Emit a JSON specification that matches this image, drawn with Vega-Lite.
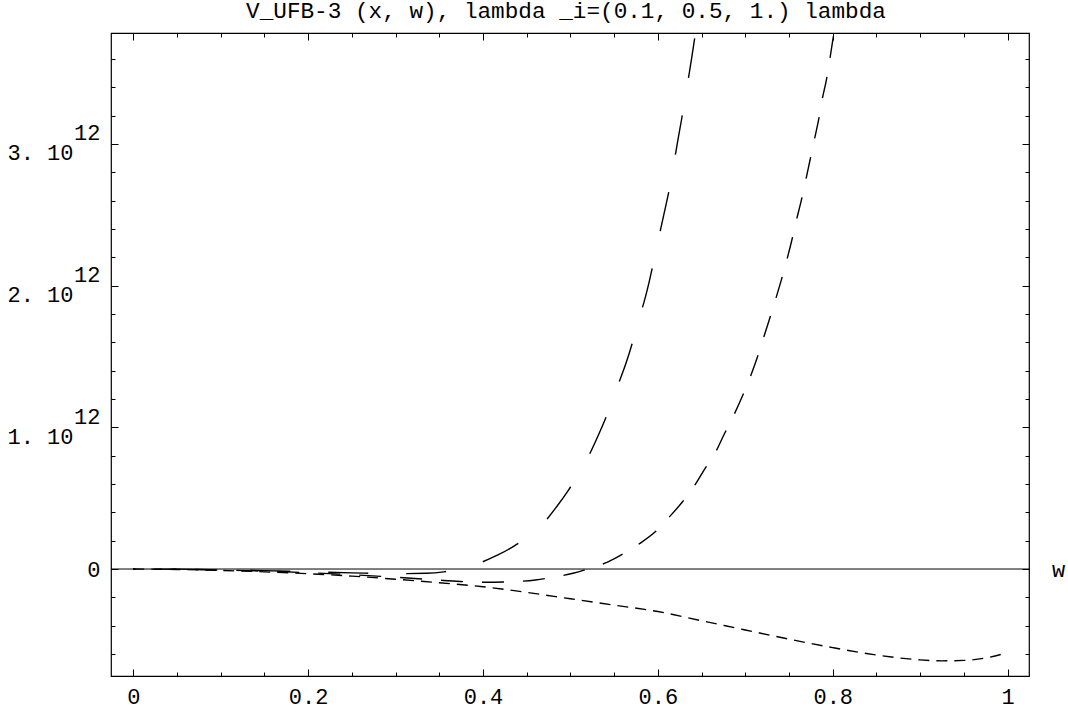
{
  "$schema": "https://vega.github.io/schema/vega-lite/v6.json",
  "width": 918,
  "height": 643,
  "autosize": {"type": "none"},
  "padding": {"left": 111, "top": 33, "right": 39, "bottom": 39},
  "background": "white",
  "config": {
    "view": {"stroke": "black", "strokeWidth": 1.2},
    "font": "Liberation Mono",
    "axis": {"labelFont": "Liberation Mono", "labelFontSize": 22, "labelColor": "black", "tickColor": "black", "tickWidth": 1, "domain": false, "grid": false, "labelOverlap": false, "labelFlush": false}
  },
  "title": {"text": "V_UFB-3 (x, w), lambda _i=(0.1, 0.5, 1.) lambda", "font": "Liberation Mono", "fontSize": 22.7, "fontWeight": "normal", "color": "black", "anchor": "middle", "offset": 10, "dx": -4},
  "datasets": {
    "curves": [
      {"series": "S", "w": 0, "V": 0},
      {"series": "S", "w": 0.05, "V": -0.003e12},
      {"series": "S", "w": 0.1, "V": -0.01e12},
      {"series": "S", "w": 0.15, "V": -0.02e12},
      {"series": "S", "w": 0.2, "V": -0.033e12},
      {"series": "S", "w": 0.25, "V": -0.05e12},
      {"series": "S", "w": 0.3, "V": -0.072e12},
      {"series": "S", "w": 0.35, "V": -0.097e12},
      {"series": "S", "w": 0.4, "V": -0.125e12},
      {"series": "S", "w": 0.45, "V": -0.165e12},
      {"series": "S", "w": 0.5, "V": -0.21e12},
      {"series": "S", "w": 0.55, "V": -0.255e12},
      {"series": "S", "w": 0.6, "V": -0.3e12},
      {"series": "S", "w": 0.65, "V": -0.365e12},
      {"series": "S", "w": 0.7, "V": -0.43e12},
      {"series": "S", "w": 0.75, "V": -0.495e12},
      {"series": "S", "w": 0.8, "V": -0.555e12},
      {"series": "S", "w": 0.85, "V": -0.607e12},
      {"series": "S", "w": 0.875, "V": -0.627e12},
      {"series": "S", "w": 0.9, "V": -0.641e12},
      {"series": "S", "w": 0.925, "V": -0.648e12},
      {"series": "S", "w": 0.95, "V": -0.645e12},
      {"series": "S", "w": 0.975, "V": -0.628e12},
      {"series": "S", "w": 1.0, "V": -0.59e12},
      {"series": "M", "w": 0, "V": 0},
      {"series": "M", "w": 0.05, "V": -0.002e12},
      {"series": "M", "w": 0.1, "V": -0.007e12},
      {"series": "M", "w": 0.15, "V": -0.015e12},
      {"series": "M", "w": 0.2, "V": -0.026e12},
      {"series": "M", "w": 0.25, "V": -0.04e12},
      {"series": "M", "w": 0.3, "V": -0.058e12},
      {"series": "M", "w": 0.35, "V": -0.078e12},
      {"series": "M", "w": 0.38, "V": -0.09e12},
      {"series": "M", "w": 0.4, "V": -0.093e12},
      {"series": "M", "w": 0.43, "V": -0.09e12},
      {"series": "M", "w": 0.46, "V": -0.077e12},
      {"series": "M", "w": 0.48, "V": -0.058e12},
      {"series": "M", "w": 0.503, "V": -0.03e12},
      {"series": "M", "w": 0.523, "V": 0.007e12},
      {"series": "M", "w": 0.543, "V": 0.05e12},
      {"series": "M", "w": 0.562, "V": 0.113e12},
      {"series": "M", "w": 0.58, "V": 0.183e12},
      {"series": "M", "w": 0.598, "V": 0.268e12},
      {"series": "M", "w": 0.612, "V": 0.36e12},
      {"series": "M", "w": 0.628, "V": 0.473e12},
      {"series": "M", "w": 0.641, "V": 0.58e12},
      {"series": "M", "w": 0.653, "V": 0.7e12},
      {"series": "M", "w": 0.666, "V": 0.825e12},
      {"series": "M", "w": 0.676, "V": 0.953e12},
      {"series": "M", "w": 0.686, "V": 1.075e12},
      {"series": "M", "w": 0.696, "V": 1.21e12},
      {"series": "M", "w": 0.705, "V": 1.345e12},
      {"series": "M", "w": 0.713, "V": 1.48e12},
      {"series": "M", "w": 0.72, "V": 1.615e12},
      {"series": "M", "w": 0.727, "V": 1.75e12},
      {"series": "M", "w": 0.734, "V": 1.89e12},
      {"series": "M", "w": 0.741, "V": 2.035e12},
      {"series": "M", "w": 0.747, "V": 2.17e12},
      {"series": "M", "w": 0.753, "V": 2.315e12},
      {"series": "M", "w": 0.758, "V": 2.45e12},
      {"series": "M", "w": 0.764, "V": 2.6e12},
      {"series": "M", "w": 0.769, "V": 2.74e12},
      {"series": "M", "w": 0.774, "V": 2.885e12},
      {"series": "M", "w": 0.779, "V": 3.03e12},
      {"series": "M", "w": 0.784, "V": 3.175e12},
      {"series": "M", "w": 0.788, "V": 3.315e12},
      {"series": "M", "w": 0.793, "V": 3.46e12},
      {"series": "M", "w": 0.797, "V": 3.61e12},
      {"series": "M", "w": 0.801, "V": 3.77e12},
      {"series": "M", "w": 0.812, "V": 4.2e12},
      {"series": "L", "w": 0, "V": 0},
      {"series": "L", "w": 0.05, "V": -0.001e12},
      {"series": "L", "w": 0.1, "V": -0.005e12},
      {"series": "L", "w": 0.15, "V": -0.011e12},
      {"series": "L", "w": 0.2, "V": -0.019e12},
      {"series": "L", "w": 0.25, "V": -0.027e12},
      {"series": "L", "w": 0.3, "V": -0.033e12},
      {"series": "L", "w": 0.335, "V": -0.03e12},
      {"series": "L", "w": 0.355, "V": -0.02e12},
      {"series": "L", "w": 0.377, "V": 0.007e12},
      {"series": "L", "w": 0.397, "V": 0.045e12},
      {"series": "L", "w": 0.417, "V": 0.099e12},
      {"series": "L", "w": 0.435, "V": 0.16e12},
      {"series": "L", "w": 0.454, "V": 0.24e12},
      {"series": "L", "w": 0.47, "V": 0.33e12},
      {"series": "L", "w": 0.484, "V": 0.438e12},
      {"series": "L", "w": 0.497, "V": 0.55e12},
      {"series": "L", "w": 0.51, "V": 0.677e12},
      {"series": "L", "w": 0.521, "V": 0.8e12},
      {"series": "L", "w": 0.531, "V": 0.932e12},
      {"series": "L", "w": 0.54, "V": 1.06e12},
      {"series": "L", "w": 0.548, "V": 1.193e12},
      {"series": "L", "w": 0.556, "V": 1.325e12},
      {"series": "L", "w": 0.564, "V": 1.461e12},
      {"series": "L", "w": 0.571, "V": 1.6e12},
      {"series": "L", "w": 0.577, "V": 1.743e12},
      {"series": "L", "w": 0.584, "V": 1.88e12},
      {"series": "L", "w": 0.59, "V": 2.025e12},
      {"series": "L", "w": 0.595, "V": 2.165e12},
      {"series": "L", "w": 0.6, "V": 2.308e12},
      {"series": "L", "w": 0.605, "V": 2.45e12},
      {"series": "L", "w": 0.61, "V": 2.59e12},
      {"series": "L", "w": 0.615, "V": 2.74e12},
      {"series": "L", "w": 0.619, "V": 2.886e12},
      {"series": "L", "w": 0.623, "V": 3.03e12},
      {"series": "L", "w": 0.627, "V": 3.169e12},
      {"series": "L", "w": 0.631, "V": 3.32e12},
      {"series": "L", "w": 0.635, "V": 3.465e12},
      {"series": "L", "w": 0.639, "V": 3.62e12},
      {"series": "L", "w": 0.643, "V": 3.783e12},
      {"series": "L", "w": 0.655, "V": 4.25e12}
    ]
  },
  "resolve": {"axis": {"x": "independent", "y": "independent"}},
  "layer": [
    {
      "data": {"name": "curves"},
      "transform": [{"filter": "datum.series == 'S'"}],
      "mark": {"type": "line", "color": "black", "strokeWidth": 1.4, "strokeDash": [11, 7], "clip": true, "interpolate": "monotone"},
      "encoding": {
        "x": {"field": "w", "type": "quantitative", "scale": {"domain": [-0.0255, 1.0245], "nice": false, "zero": false},
          "axis": {"orient": "bottom", "values": [0, 0.2, 0.4, 0.6, 0.8, 1], "labelExpr": "datum.value == 0 ? '0' : datum.value == 1 ? '1' : format(datum.value, '.1f')", "ticks": false, "labelPadding": 10, "title": null}},
        "y": {"field": "V", "type": "quantitative", "scale": {"domain": [-0.755e12, 3.783e12], "nice": false, "zero": false},
          "axis": {"orient": "left", "values": [1e12, 2e12, 3e12], "labelExpr": "format(datum.value / 1e12, '.0f') + '. 10'", "ticks": false, "labelPadding": 38, "labelBaseline": "middle", "labelOffset": 9, "title": null}}
      }
    },
    {
      "data": {"name": "curves"},
      "transform": [{"filter": "datum.series == 'M'"}],
      "mark": {"type": "line", "color": "black", "strokeWidth": 1.4, "strokeDash": [22, 19], "strokeDashOffset": 20, "clip": true, "interpolate": "monotone"},
      "encoding": {
        "x": {"field": "w", "type": "quantitative", "scale": {"domain": [-0.0255, 1.0245], "nice": false, "zero": false},
          "axis": {"orient": "bottom", "values": [0, 0.05, 0.1, 0.15, 0.2, 0.25, 0.3, 0.35, 0.4, 0.45, 0.5, 0.55, 0.6, 0.65, 0.7, 0.75, 0.8, 0.85, 0.9, 0.95, 1], "labels": false, "ticks": true,
            "tickSize": {"condition": {"test": "abs(datum.value * 5 - round(datum.value * 5)) < 0.001", "value": -7}, "value": -4},
            "title": "w", "titleFont": "Liberation Mono", "titleFontSize": 22, "titleFontWeight": "normal", "titleColor": "black", "titleX": 947, "titleY": -107, "titleAlign": "center", "titleBaseline": "middle", "titleAngle": 0}},
        "y": {"field": "V", "type": "quantitative", "scale": {"domain": [-0.755e12, 3.783e12], "nice": false, "zero": false},
          "axis": {"orient": "left", "values": [-0.6e12, -0.4e12, -0.2e12, 0, 0.2e12, 0.4e12, 0.6e12, 0.8e12, 1e12, 1.2e12, 1.4e12, 1.6e12, 1.8e12, 2e12, 2.2e12, 2.4e12, 2.6e12, 2.8e12, 3e12, 3.2e12, 3.4e12, 3.6e12], "labels": false, "ticks": true,
            "tickSize": {"condition": {"test": "abs(datum.value / 1e12 - round(datum.value / 1e12)) < 0.001", "value": -7}, "value": -4}, "title": null}}
      }
    },
    {
      "data": {"name": "curves"},
      "transform": [{"filter": "datum.series == 'L'"}],
      "mark": {"type": "line", "color": "black", "strokeWidth": 1.4, "strokeDash": [40, 38], "strokeDashOffset": 39, "clip": true, "interpolate": "monotone"},
      "encoding": {
        "x": {"field": "w", "type": "quantitative", "scale": {"domain": [-0.0255, 1.0245], "nice": false, "zero": false},
          "axis": {"orient": "top", "values": [0, 0.05, 0.1, 0.15, 0.2, 0.25, 0.3, 0.35, 0.4, 0.45, 0.5, 0.55, 0.6, 0.65, 0.7, 0.75, 0.8, 0.85, 0.9, 0.95, 1], "labels": false, "ticks": true,
            "tickSize": {"condition": {"test": "abs(datum.value * 5 - round(datum.value * 5)) < 0.001", "value": -7}, "value": -4}, "title": null}},
        "y": {"field": "V", "type": "quantitative", "scale": {"domain": [-0.755e12, 3.783e12], "nice": false, "zero": false},
          "axis": {"orient": "right", "values": [-0.6e12, -0.4e12, -0.2e12, 0, 0.2e12, 0.4e12, 0.6e12, 0.8e12, 1e12, 1.2e12, 1.4e12, 1.6e12, 1.8e12, 2e12, 2.2e12, 2.4e12, 2.6e12, 2.8e12, 3e12, 3.2e12, 3.4e12, 3.6e12], "labels": false, "ticks": true,
            "tickSize": {"condition": {"test": "abs(datum.value / 1e12 - round(datum.value / 1e12)) < 0.001", "value": -7}, "value": -4}, "title": null}}
      }
    },
    {
      "data": {"values": [{"V": 0}]},
      "mark": {"type": "rule", "color": "black", "strokeWidth": 1},
      "encoding": {
        "y": {"field": "V", "type": "quantitative", "scale": {"domain": [-0.755e12, 3.783e12], "nice": false, "zero": false},
          "axis": {"orient": "left", "values": [0, 1e12, 2e12, 3e12], "labelExpr": "datum.value == 0 ? '0' : '12'", "ticks": false, "labelPadding": 11, "labelBaseline": "middle",
            "labelOffset": {"condition": {"test": "datum.value == 0", "value": 0}, "value": -11}, "title": null}}
      }
    }
  ]
}
